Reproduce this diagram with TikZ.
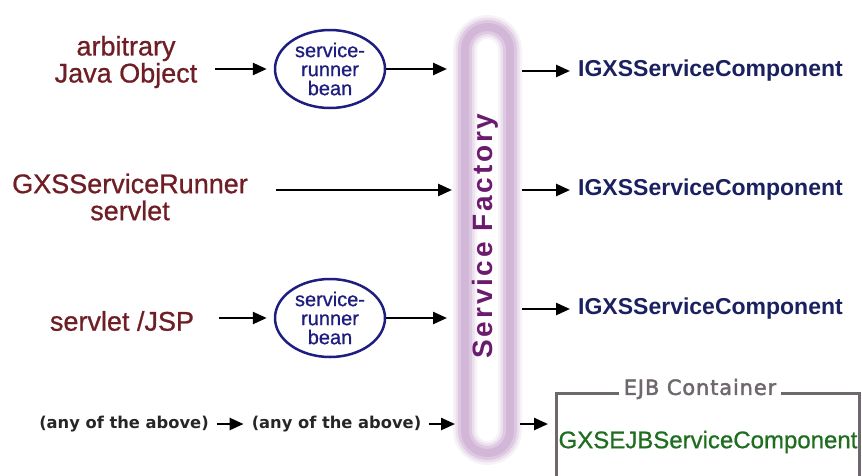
\documentclass[tikz,border=0pt]{standalone}
\usepackage{fontspec}
\setmainfont{Liberation Sans}
\newfontfamily\mediumfont[FakeBold=0.8]{Liberation Sans}
\newfontfamily\verdana{DejaVu Sans}
\newfontfamily\verdanaspaced[LetterSpace=4,FakeBold=2]{DejaVu Sans}
\newfontfamily\factoryfont[LetterSpace=10]{Liberation Sans}
\usetikzlibrary{arrows.meta,shapes.geometric}
\definecolor{srcred}{HTML}{6E1E24}
\definecolor{beanblue}{HTML}{1E1E80}
\definecolor{compblue}{HTML}{1A2060}
\definecolor{factpurple}{HTML}{6A1B6E}
\definecolor{barpurple}{HTML}{C9A8D0}
\definecolor{ejbgreen}{HTML}{1F6E1F}
\definecolor{ejbgray}{HTML}{6E686E}
\tikzset{
  srctext/.style={inner sep=0pt,text=srcred,align=center,font=\mediumfont\fontsize{27}{27}\selectfont},
  beannode/.style={ellipse,draw=beanblue,line width=2.5pt,text=beanblue,align=center,
    minimum width=110pt,minimum height=78pt,inner sep=0pt,font=\mediumfont\fontsize{20}{19}\selectfont},
  comptext/.style={anchor=west,inner sep=0pt,text=compblue,font=\bfseries\fontsize{23}{23}\selectfont},
  anytext/.style={inner sep=0pt,text=black!85,font=\verdana\bfseries\fontsize{16.3}{16.3}\selectfont},
  flowarrow/.style={-{Triangle[length=14pt,width=12pt]},line width=2.5pt},
  tobar/.style={shorten >=18pt},
  frombar/.style={shorten <=12pt,shorten >=8pt}
}
\begin{document}
\begin{tikzpicture}[x=1pt,y=-1pt]
  \useasboundingbox (0,0) rectangle (862,475);
  \clip (0,0) rectangle (862,475);
  \node[minimum width=45pt,minimum height=426pt,outer sep=0pt] (factory) at (487.5,240) {};
  \foreach \w/\o in {24/0.15,19/0.25,14/0.4,8/0.55}
    \draw[barpurple,line width=\w,draw opacity=\o,rounded corners=22.5pt]
      (factory.north west) rectangle (factory.south east);
  \node[rotate=90,text=factpurple,font=\factoryfont\bfseries\fontsize{28}{28}\selectfont] (factorytext) at (485,236) {Service Factory};

  \node[srctext] (objA) at (126,62) {arbitrary\\Java Object};
  \node[srctext] (runner) at (130,197) {GXSServiceRunner\\servlet};
  \node[srctext] (jsp) at (122,321) {servlet /JSP};
  \node[anytext] (anyA) at (124,424) {(any of the above)};
  \node[anytext] (anyB) at (336.5,424) {(any of the above)};

  \node[beannode] (bean1) at (330,69) {service-\\runner\\bean};
  \node[beannode] (bean2) at (330,318) {service-\\runner\\bean};

  \node[comptext] (comp1) at (578,71) {IGXSServiceComponent};
  \node[comptext] (comp2) at (578,190) {IGXSServiceComponent};
  \node[comptext] (comp3) at (578,309) {IGXSServiceComponent};

  \node[draw=ejbgray,line width=3pt,minimum width=303pt,minimum height=130pt,anchor=north west] (ejb) at (555,392) {};
  \node[fill=white,inner xsep=5pt,inner ysep=1pt,text=ejbgray,font=\verdanaspaced\fontsize{21}{21}\selectfont] (ejbtitle) at (700,389) {EJB Container};
  \node[text=ejbgreen,inner sep=0pt,font=\mediumfont\fontsize{24}{24}\selectfont] (ejbcomp) at (708,442) {GXSEJBServiceComponent};

  \draw[flowarrow,shorten <=18pt,shorten >=7pt] (objA.east |- bean1) -- (bean1.west);
  \draw[flowarrow,tobar] (bean1.east) -- (bean1.east -| factory.west);
  \draw[flowarrow,shorten <=28pt,shorten >=13pt] (runner.east |- comp2.west) -- (factory.west |- comp2.west);
  \draw[flowarrow,shorten <=25pt,shorten >=7pt] (jsp.east |- bean2) -- (bean2.west);
  \draw[flowarrow,tobar] (bean2.east) -- (bean2.east -| factory.west);
  \draw[flowarrow,shorten <=8pt,shorten >=8pt] (anyA.east) -- (anyB.west);
  \draw[flowarrow,shorten <=8pt,shorten >=10pt] (anyB.east) -- (anyB.east -| factory.west);

  \draw[flowarrow,frombar] (factory.east |- comp1.west) -- (comp1.west);
  \draw[flowarrow,frombar] (factory.east |- comp2.west) -- (comp2.west);
  \draw[flowarrow,frombar] (factory.east |- comp3.west) -- (comp3.west);
  \draw[flowarrow,shorten <=10pt,shorten >=7pt] (factory.east |- anyB) -- (ejb.west |- anyB);
\end{tikzpicture}
\end{document}
